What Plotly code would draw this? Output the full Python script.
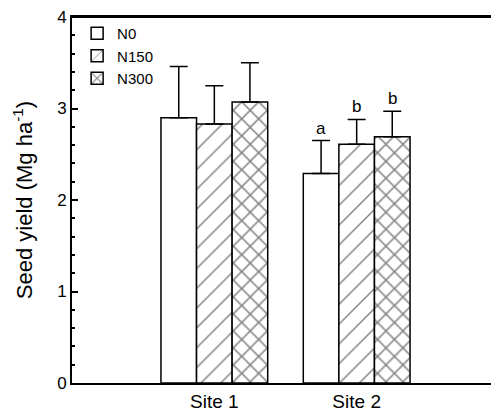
import plotly.graph_objects as go

sites = ["Site 1", "Site 2"]
site_pos = [1, 2]
treatments = ["N0", "N150", "N300"]
yield_means = {
    "N0": [2.90, 2.29],
    "N150": [2.83, 2.61],
    "N300": [3.07, 2.69],
}
yield_err = {
    "N0": [0.56, 0.36],
    "N150": [0.42, 0.27],
    "N300": [0.43, 0.28],
}
letters_site2 = ["a", "b", "b"]
y_ticks = [0, 1, 2, 3, 4]

patterns = {"N0": "", "N150": "/", "N300": "x"}
pattern_size = {"N0": 12, "N150": 14, "N300": 12}
pattern_solidity = {"N0": 0.1, "N150": 0.1, "N300": 0.24}
bar_w = 0.25
FONT = "Liberation Sans, Arial, Helvetica, sans-serif"

fig = go.Figure()
for tr in treatments:
    fig.add_trace(go.Bar(
        x=site_pos, y=yield_means[tr], name=tr, width=bar_w,
        marker=dict(color="white", line=dict(color="black", width=1.5),
                    pattern=dict(shape=patterns[tr], fgcolor="black", bgcolor="white",
                                 size=pattern_size[tr], solidity=pattern_solidity[tr],
                                 fillmode="overlay")),
        error_y=dict(type="data", array=yield_err[tr], arrayminus=[0, 0],
                     color="black", thickness=1.5, width=9),
    ))

# significance letters above Site 2 bars
for i, tr in enumerate(treatments):
    xpos = site_pos[1] + (i - 1) * bar_w
    ytop = yield_means[tr][1] + yield_err[tr][1]
    fig.add_annotation(x=xpos, y=ytop, text=letters_site2[i], showarrow=False,
                       yanchor="bottom", yshift=1,
                       font=dict(size=17, color="black", family=FONT))

# top frame line of the plot area
fig.add_shape(type="line", xref="paper", yref="paper", x0=0, x1=1, y0=1, y1=1,
              line=dict(color="black", width=2), layer="above")

# page body has an 8px margin: size figure so plot area lands where the reference has it
fig.update_layout(
    width=491, height=403,
    margin=dict(l=64, r=0, t=9, b=28),
    paper_bgcolor="white", plot_bgcolor="white",
    barmode="group", bargap=0.25, bargroupgap=0,
    font=dict(family=FONT, color="black", size=16),
    showlegend=True,
    legend=dict(x=0.012, y=1.0, xanchor="left", yanchor="top",
                bgcolor="rgba(0,0,0,0)", font=dict(size=15), tracegroupgap=0,
                itemwidth=30),
    xaxis=dict(range=[0, 3], tickvals=site_pos, ticktext=sites, showline=True,
               linecolor="black", linewidth=2, mirror=True, ticks="",
               showgrid=False, zeroline=False, tickfont=dict(size=19),
               automargin=False, ticklabeloverflow="allow"),
    yaxis=dict(range=[0, 4], tickvals=y_ticks, showline=True, linecolor="black",
               linewidth=2, ticks="inside", ticklen=6, tickwidth=1.5, tickcolor="black",
               minor=dict(dtick=0.2, ticks="inside", ticklen=3, tickwidth=1.5, tickcolor="black"),
               showgrid=False, zeroline=False, tickfont=dict(size=17),
               automargin=False, ticklabeloverflow="allow",
               title=dict(text="Seed yield (Mg ha<sup>-1</sup>)", font=dict(size=22), standoff=18)),
)

fig.write_html("out.html")
